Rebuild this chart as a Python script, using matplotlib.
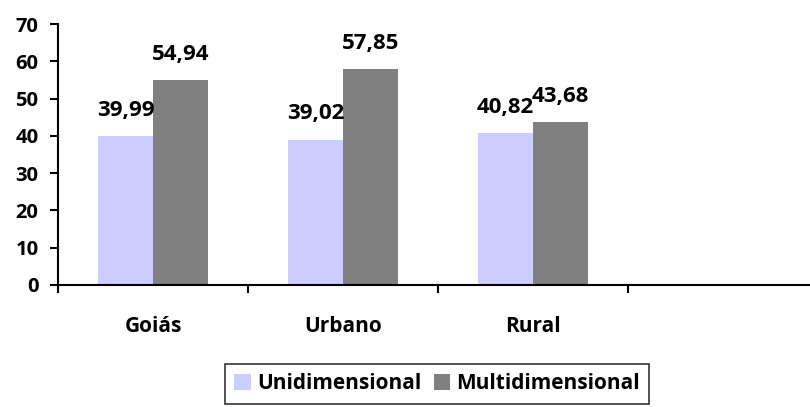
import matplotlib
matplotlib.use("Agg")
import matplotlib.pyplot as plt
import numpy as np

categories = ["Goiás", "Urbano", "Rural", ""]
unidimensional = [39.99, 39.02, 40.82]
multidimensional = [54.94, 57.85, 43.68]
series_names = ["Unidimensional", "Multidimensional"]
yticks = [0, 10, 20, 30, 40, 50, 60, 70]

plt.rcParams['font.family'] = ['Open Sans', 'DejaVu Sans']
plt.rcParams['font.weight'] = 'bold'

W, H = 810, 407
fig = plt.figure(figsize=(W / 100, H / 100), dpi=100)
ax = fig.add_axes([58 / W, 1 - 285 / H, (818 - 58) / W, (285 - 24) / H])

x = np.arange(len(unidimensional))
bw = 55 / 190
c1, c2 = "#ccccff", "#808080"
b1 = ax.bar(x - bw / 2, unidimensional, bw, color=c1, label=series_names[0])
b2 = ax.bar(x + bw / 2, multidimensional, bw, color=c2, label=series_names[1])

def fmt(v):
    return f"{v:.2f}".replace(".", ",")

for bars, vals in ((b1, unidimensional), (b2, multidimensional)):
    for rect, v in zip(bars, vals):
        ax.annotate(fmt(v), (rect.get_x() + rect.get_width() / 2, v),
                    xytext=(0, 11), textcoords="offset points",
                    ha="center", va="bottom", fontsize=16, fontweight="bold")

ax.set_xlim(-0.5, 3.5)
ax.set_ylim(0, 70)
ax.set_yticks(yticks)
ax.set_yticklabels([str(t) for t in yticks], fontsize=14.5, fontweight="bold")

ax.set_xticks(np.arange(len(categories)))
ax.set_xticklabels(categories, fontsize=15, fontweight="bold")
ax.tick_params(axis="x", length=0, pad=22)
ax.set_xticks(np.arange(len(categories) + 1) - 0.5, minor=True)
ax.tick_params(axis="x", which="minor", length=6, width=1.5, direction="out")
ax.tick_params(axis="y", length=6, width=1.5, direction="out", pad=8)

for s in ("top", "right"):
    ax.spines[s].set_visible(False)
ax.spines["left"].set_linewidth(1.5)
ax.spines["bottom"].set_linewidth(1.5)

leg = fig.legend(loc="upper center", bbox_to_anchor=(437 / W, 1 - 364 / H),
                 ncol=2, frameon=True, fancybox=False, edgecolor="black",
                 prop={"weight": "bold", "size": 15},
                 handlelength=0.8, handleheight=0.8, handletextpad=0.3,
                 columnspacing=0.6, borderpad=0.45, borderaxespad=0)
leg.get_frame().set_linewidth(1.2)

fig.savefig("out.png", dpi=100)
